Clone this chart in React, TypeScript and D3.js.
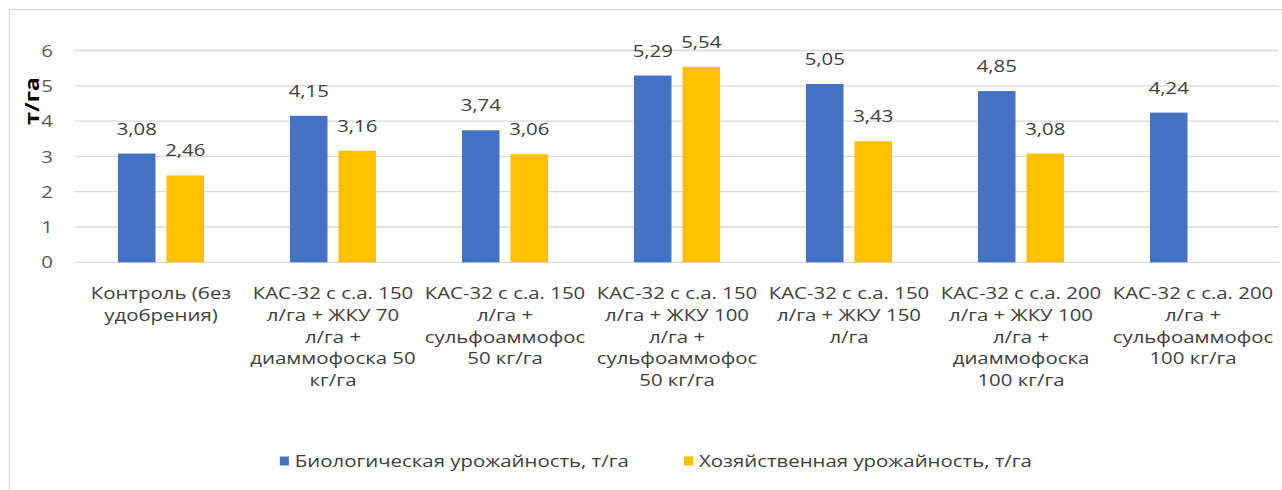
import React, { useEffect, useRef } from 'react';
import * as d3 from 'd3';

const categories = [
  'Контроль (без удобрения)',
  'КАС-32 с с.а. 150 л/га + ЖКУ 70 л/га + диаммофоска 50 кг/га',
  'КАС-32 с с.а. 150 л/га + сульфоаммофос 50 кг/га',
  'КАС-32 с с.а. 150 л/га + ЖКУ 100 л/га + сульфоаммофос 50 кг/га',
  'КАС-32 с с.а. 150 л/га + ЖКУ 150 л/га',
  'КАС-32 с с.а. 200 л/га + ЖКУ 100 л/га + диаммофоска 100 кг/га',
  'КАС-32 с с.а. 200 л/га + сульфоаммофос 100 кг/га',
];

const categoryTickLines = [
  ['Контроль (без', 'удобрения)'],
  ['КАС-32 с с.а. 150', 'л/га + ЖКУ 70', 'л/га +', 'диаммофоска 50', 'кг/га'],
  ['КАС-32 с с.а. 150', 'л/га +', 'сульфоаммофос', '50 кг/га'],
  ['КАС-32 с с.а. 150', 'л/га + ЖКУ 100', 'л/га +', 'сульфоаммофос', '50 кг/га'],
  ['КАС-32 с с.а. 150', 'л/га + ЖКУ 150', 'л/га'],
  ['КАС-32 с с.а. 200', 'л/га + ЖКУ 100', 'л/га +', 'диаммофоска', '100 кг/га'],
  ['КАС-32 с с.а. 200', 'л/га +', 'сульфоаммофос', '100 кг/га'],
];

const biological = [3.08, 4.15, 3.74, 5.29, 5.05, 4.85, 4.24];
const economic: (number | null)[] = [2.46, 3.16, 3.06, 5.54, 3.43, 3.08, null];

const seriesNames = ['Биологическая урожайность, т/га', 'Хозяйственная урожайность, т/га'];
const seriesColors = ['#4472C4', '#FFC000'];
const yTicks = [0, 1, 2, 3, 4, 5, 6];
const yAxisTitle = 'т/га';

const W = 1282;
const H = 490;
const FONT = "'Open Sans', sans-serif";
const FS = 17;
const SX = 1.2;

export default function App() {
  const ref = useRef<SVGSVGElement>(null);

  useEffect(() => {
    const svg = d3.select(ref.current);
    svg.selectAll('*').remove();

    svg.append('rect').attr('width', W).attr('height', H).attr('fill', '#fff');
    // chart frame (extends beyond the picture on right & bottom)
    svg.append('rect')
      .attr('x', 9.5).attr('y', 9.5).attr('width', W + 40).attr('height', H + 40)
      .attr('fill', '#fff').attr('stroke', '#d9d9d9').attr('stroke-width', 1.2);

    const left = 75, right = 1279;
    const y = d3.scaleLinear().domain([0, 6]).range([262.3, 50.5]);
    const x0 = d3.scaleBand<string>().domain(categories).range([left, right])
      .paddingInner(0.5).paddingOuter(0.25);
    const x1 = d3.scaleBand<number>().domain([0, 1]).range([0, x0.bandwidth()])
      .paddingInner(0.227);

    const fmt = (v: number) => d3.format('.2f')(v).replace('.', ',');

    // gridlines
    svg.append('g').selectAll('line').data(yTicks).join('line')
      .attr('x1', left).attr('x2', right)
      .attr('y1', d => y(d)).attr('y2', d => y(d))
      .attr('stroke', '#d9d9d9').attr('stroke-width', 1.3);

    // y tick labels
    svg.append('g').selectAll('text').data(yTicks).join('text')
      .attr('transform', d => `translate(53,${y(d)}) scale(${SX},1)`)
      .attr('dy', '0.36em')
      .attr('text-anchor', 'end')
      .attr('font-family', FONT).attr('font-size', FS).attr('fill', '#595959')
      .text(d => String(d));

    // y axis title
    svg.append('text')
      .attr('transform', `translate(39,101) rotate(-90) scale(1.3,1.12)`)
      .attr('text-anchor', 'middle')
      .attr('font-family', FONT).attr('font-size', 18).attr('font-weight', 'bold')
      .attr('fill', '#000')
      .text(yAxisTitle);

    const series = [biological, economic];
    series.forEach((vals, si) => {
      const g = svg.append('g');
      const pts = categories.map((c, i) => ({ c, v: vals[i] })).filter(p => p.v != null) as { c: string; v: number }[];
      g.selectAll('rect').data(pts).join('rect')
        .attr('x', d => (x0(d.c) as number) + (x1(si) as number))
        .attr('width', x1.bandwidth())
        .attr('y', d => y(d.v))
        .attr('height', d => y(0) - y(d.v))
        .attr('fill', seriesColors[si]);
      g.selectAll('text').data(pts).join('text')
        .attr('transform', d => `translate(${(x0(d.c) as number) + (x1(si) as number) + x1.bandwidth() / 2},${y(d.v) - 19}) scale(${SX},1)`)
        .attr('text-anchor', 'middle')
        .attr('font-family', FONT).attr('font-size', FS).attr('fill', '#404040')
        .text(d => fmt(d.v));
    });

    // category labels
    const cg = svg.append('g');
    categories.forEach((c, i) => {
      const cx = (x0(c) as number) + x0.bandwidth() / 2;
      cg.append('g').selectAll('text').data(categoryTickLines[i]).join('text')
        .attr('transform', (_, li) => `translate(${cx},${299.3 + li * 21.7}) scale(${SX},1)`)
        .attr('text-anchor', 'middle')
        .attr('font-family', FONT).attr('font-size', FS).attr('fill', '#404040')
        .text(d => d);
    });

    // legend
    const lg = svg.append('g');
    const items = seriesNames.map((name, i) => {
      const t = lg.append('text')
        .attr('font-family', FONT).attr('font-size', FS).attr('fill', '#404040')
        .text(name);
      const w = (t.node() as SVGTextElement).getComputedTextLength() * SX;
      return { t, w, i };
    });
    const sq = 9, gapST = 6, gapItems = 55;
    const total = items.reduce((s, it) => s + sq + gapST + it.w, 0) + gapItems * (items.length - 1);
    let lx = 656 - total / 2;
    const ly = 461;
    items.forEach(it => {
      lg.append('rect').attr('x', lx).attr('y', ly - sq / 2).attr('width', sq).attr('height', sq)
        .attr('fill', seriesColors[it.i]);
      it.t.attr('transform', `translate(${lx + sq + gapST},${ly}) scale(${SX},1)`).attr('dy', '0.36em');
      lx += sq + gapST + it.w + gapItems;
    });
  }, []);

  return (
    <svg ref={ref} width={W} height={H} style={{ position: 'absolute', left: 0, top: 0, display: 'block' }} />
  );
}
